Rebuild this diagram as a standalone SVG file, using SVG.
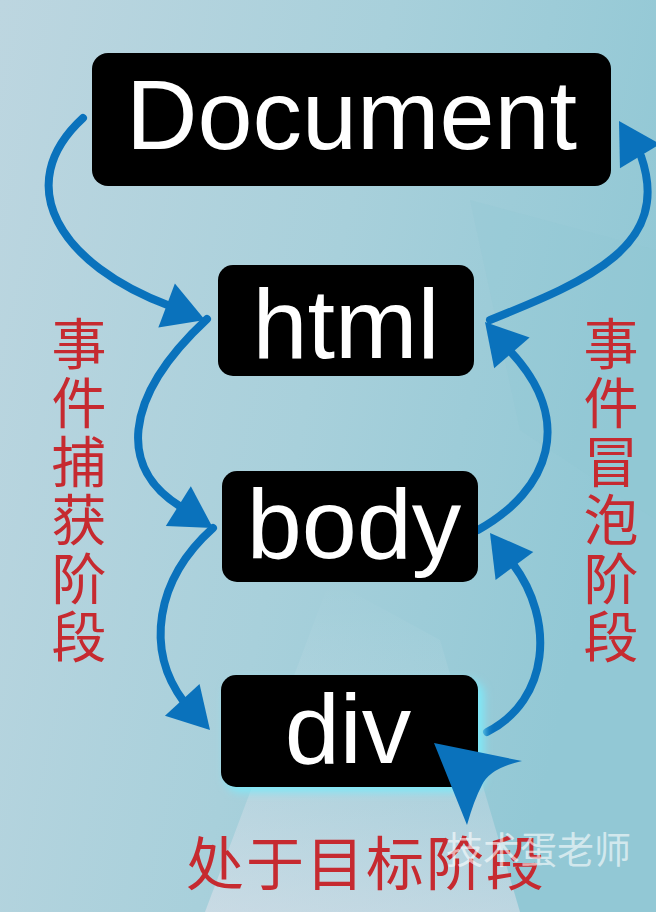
<svg xmlns="http://www.w3.org/2000/svg" width="656" height="912" viewBox="0 0 656 912">
<style>
.box{fill:#000}
.lbl{font-family:"Liberation Sans",Arial,sans-serif;font-size:99px;fill:#fff;text-anchor:middle}
.cn{font-family:"Noto Sans CJK SC","Noto Sans",sans-serif;fill:#c62a30}
.vert{writing-mode:vertical-rl;font-size:55px;letter-spacing:3.6px}
.shaft{fill:none;stroke:#0a72bc;stroke-width:8;stroke-linecap:round}
.head{fill:#0a72bc}
</style>
<defs>
<linearGradient id="bg" x1="0" y1="0" x2="1" y2="0.3">
<stop offset="0" stop-color="#bdd6e0"/>
<stop offset="0.55" stop-color="#a8d0db"/>
<stop offset="1" stop-color="#92c8d5"/>
</linearGradient>
<linearGradient id="band" x1="0" y1="0" x2="0" y2="1">
<stop offset="0" stop-color="#ffffff" stop-opacity="0"/>
<stop offset="0.5" stop-color="#f2e8f0" stop-opacity="0.15"/>
<stop offset="1" stop-color="#f2e8f0" stop-opacity="0.45"/>
</linearGradient>
<path id="head" d="M0,0 L-41,-23.5 L-41,23.5 Z"/>
<filter id="glow" x="-20%" y="-20%" width="140%" height="140%">
<feGaussianBlur stdDeviation="4"/>
</filter>
</defs>
<rect width="656" height="912" fill="url(#bg)"/>
<polygon points="470,200 656,250 656,520 520,430" fill="#8fc6d3" opacity="0.25"/>
<polygon points="205,912 330,580 440,640 520,912" fill="url(#band)"/>

<g id="connectors">
<path class="shaft" d="M83,118 C10,185 60,265 170,306"/>
<use href="#head" class="head" transform="translate(205,320) rotate(20.6)"/>
<path class="shaft" d="M207,319 C120,400 120,470 181,507"/>
<use href="#head" class="head" transform="translate(213,528) rotate(32.2)"/>
<path class="shaft" d="M213,528 C155,580 145,650 184,702"/>
<use href="#head" class="head" transform="translate(210,730) rotate(47.4)"/>
<path class="shaft" d="M487,732 C550,700 555,620 513,564"/>
<use href="#head" class="head" transform="translate(490,533) rotate(-126.6)"/>
<path class="shaft" d="M478,530 C550,490 575,420 510,351"/>
<use href="#head" class="head" transform="translate(485,322) rotate(-131)"/>
<path class="shaft" d="M490,320 C590,280 672,245 641,156"/>
<use href="#head" class="head" transform="translate(619,121) rotate(-121)"/>
</g>

<g id="node-document">
<rect class="box" x="92" y="53" width="519" height="133" rx="16"/>
<text class="lbl" x="351.5" y="149">Document</text>
</g>
<g id="node-html">
<rect class="box" x="218" y="265" width="256" height="111" rx="15"/>
<text class="lbl" x="346" y="358">html</text>
</g>
<g id="node-body">
<rect class="box" x="222" y="471" width="256" height="111" rx="15"/>
<text class="lbl" x="354" y="558">body</text>
</g>
<g id="node-div">
<rect x="225" y="680" width="259" height="112" rx="15" fill="#7fe8f8" filter="url(#glow)"/>
<rect class="box" x="221" y="675" width="257" height="112" rx="15"/>
<text class="lbl" x="348" y="763">div</text>
</g>

<path id="target-arrow" class="head" d="M434,743 L522,761 Q490,768 482,785 Q474,800 467,825 Z"/>

<text id="label-capture" class="cn vert" x="79" y="316">事件捕获阶段</text>
<text id="label-bubble" class="cn vert" x="611" y="316">事件冒泡阶段</text>
<text id="label-target" class="cn" x="186" y="885" font-size="58" letter-spacing="2">处于目标阶段</text>
<text id="watermark" x="446" y="864" font-family="Noto Sans CJK SC, sans-serif" font-size="37" fill="#ffffff" fill-opacity="0.6">技术蛋老师</text>
</svg>
